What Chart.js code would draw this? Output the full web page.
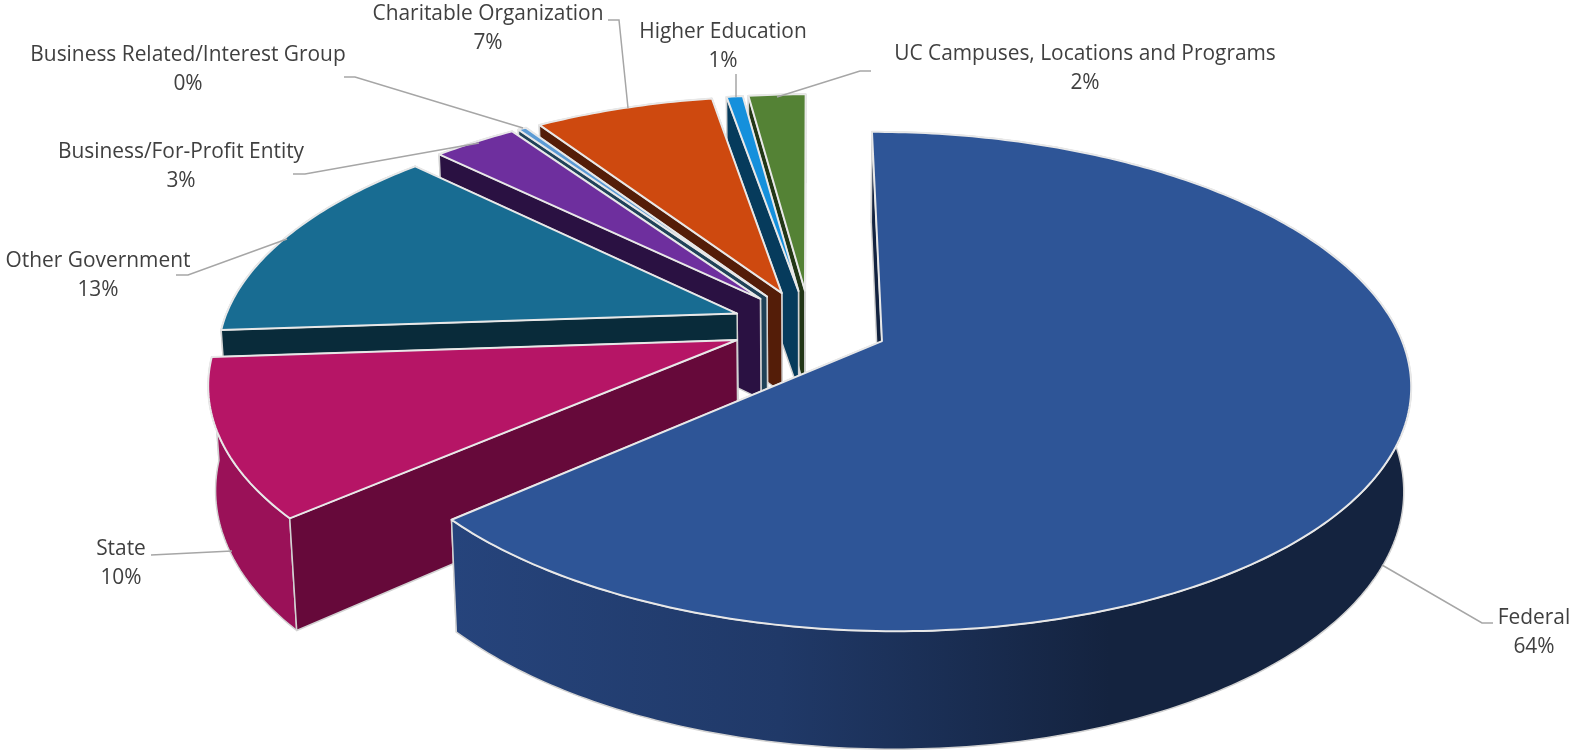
<!DOCTYPE html>
<html>
<head>
<meta charset="utf-8">
<title>Funding by source</title>
<script src="https://cdn.jsdelivr.net/npm/chart.js@4"></script>
<style>
  html, body { margin: 0; padding: 0; background: #fff; }
  #chart-box { width: 1575px; height: 751px; overflow: hidden; }
</style>
</head>
<body>
<div id="chart-box"><canvas id="fundingChart" width="1575" height="751"></canvas></div>
<script>
const categories = ['Federal', 'State', 'Other Government', 'Business/For-Profit Entity',
    'Business Related/Interest Group', 'Charitable Organization', 'Higher Education',
    'UC Campuses, Locations and Programs'];
const shares = [63.6, 10.3, 13.4, 3.1, 0.3, 6.6, 0.6, 2.1];

const topColors = ['#2E5597', '#B61566', '#186C92', '#6E2F9E', '#5B9BD5', '#CE490F', '#1590DC', '#548235'];
const wallColors = ['#12223F', '#66093A', '#092B3A', '#2A1142', '#1F4258', '#541D08', '#063B5C', '#223616'];
const rimColors = ['#14233F', '#9A1158', '#0F4A63', '#4A2070', '#3A6A90', '#8A3009', '#0B5E90', '#38571F'];

// text anchor + leader polyline for every label, same order as categories
const labelBoxes = [
    { x: 1534, y: 624, line: [[1493, 623], [1482, 623], [1382, 565]] },
    { x: 121, y: 555, line: [[151, 555], [232, 551]] },
    { x: 98, y: 267, line: [[176, 275], [188, 275], [287, 239]] },
    { x: 181, y: 158, line: [[293, 174], [305, 174], [479, 143]] },
    { x: 188, y: 61, line: [[344, 77], [355, 77], [523, 128]] },
    { x: 488, y: 20, line: [[608, 20], [619, 20], [628, 108]] },
    { x: 723, y: 38, line: [[736, 74], [736, 97]] },
    { x: 1085, y: 60, line: [[871, 71], [860, 71], [777, 97]] }
];

// camera for the tilted pie
const cam = { x0: 810, y0: 326, a: 515, b: 238.3, k: 0.16, depth: 103, shrink: 0.012 };

function project(gx, gy, low) {
    const w = 1 + cam.k * gy + (low ? cam.shrink : 0);
    const drop = low ? cam.depth : 0;
    return [cam.x0 + cam.a * gx / w, cam.y0 + (drop - cam.b * gy) / w];
}

// ground-plane geometry of one arc element, radius normalised to 1
function sliceGeometry(arc) {
    const r = arc.outerRadius;
    const mid = (arc.startAngle + arc.endAngle) / 2;
    const e = (arc.options.offset / 4) / r;
    const apex = [Math.cos(mid) * e, -Math.sin(mid) * e];
    const n = Math.max(2, Math.ceil((arc.endAngle - arc.startAngle) / 0.015));
    const rim = [];
    for (let i = 0; i <= n; i++) {
        const t = arc.startAngle + (arc.endAngle - arc.startAngle) * i / n;
        rim.push([apex[0] + Math.cos(t), apex[1] - Math.sin(t)]);
    }
    return { apex, rim };
}

function tracePoly(ctx, pts) {
    ctx.beginPath();
    pts.forEach((p, i) => i ? ctx.lineTo(p[0], p[1]) : ctx.moveTo(p[0], p[1]));
    ctx.closePath();
}

function drawWall(ctx, groundPts, fill) {
    const up = groundPts.map(p => project(p[0], p[1], false));
    const down = groundPts.map(p => project(p[0], p[1], true)).reverse();
    tracePoly(ctx, up.concat(down));
    ctx.fillStyle = fill;
    ctx.fill();
    ctx.strokeStyle = '#D2D2D2';
    ctx.lineWidth = 1.5;
    ctx.lineJoin = 'round';
    ctx.stroke();
}

const pie3d = {
    id: 'pie3d',
    beforeDatasetDraw(chart) {
        const ctx = chart.ctx;
        const arcs = chart.getDatasetMeta(0).data;
        ctx.save();
        for (let i = arcs.length - 1; i >= 0; i--) {
            const g = sliceGeometry(arcs[i]);
            const last = g.rim[g.rim.length - 1];
            let rimFill = rimColors[i];
            if (i === 0) {
                rimFill = ctx.createLinearGradient(450, 0, 1110, 0);
                rimFill.addColorStop(0, '#26447C');
                rimFill.addColorStop(0.5, '#203968');
                rimFill.addColorStop(1, '#14233F');
            }
            // a cut wall only shows when its top edge runs leftwards round the slice
            const apexX = project(g.apex[0], g.apex[1], false)[0];
            const startFront = project(g.rim[0][0], g.rim[0][1], false)[0] < apexX;
            const endFront = apexX < project(last[0], last[1], false)[0];
            if (!startFront) drawWall(ctx, [g.apex, g.rim[0]], wallColors[i]);
            if (!endFront) drawWall(ctx, [g.apex, last], wallColors[i]);
            drawWall(ctx, g.rim, rimFill);
            if (startFront) drawWall(ctx, [g.apex, g.rim[0]], wallColors[i]);
            if (endFront) drawWall(ctx, [g.apex, last], wallColors[i]);
            tracePoly(ctx, [g.apex].concat(g.rim).map(p => project(p[0], p[1], false)));
            ctx.fillStyle = arcs[i].options.backgroundColor;
            ctx.fill();
            ctx.strokeStyle = arcs[i].options.borderColor;
            ctx.lineWidth = arcs[i].options.borderWidth;
            ctx.stroke();
        }
        ctx.restore();
        return false;
    },
    afterDraw(chart) {
        const ctx = chart.ctx;
        const total = shares.reduce((a, b) => a + b, 0);
        ctx.save();
        ctx.strokeStyle = '#A6A6A6';
        ctx.lineWidth = 1.5;
        labelBoxes.forEach(box => {
            ctx.beginPath();
            box.line.forEach((p, i) => i ? ctx.lineTo(p[0], p[1]) : ctx.moveTo(p[0], p[1]));
            ctx.stroke();
        });
        ctx.fillStyle = '#404040';
        ctx.font = '20.9px "Open Sans"';
        ctx.textAlign = 'center';
        ctx.textBaseline = 'alphabetic';
        categories.forEach((name, i) => {
            ctx.fillText(name, labelBoxes[i].x, labelBoxes[i].y);
            ctx.fillText(Math.round(shares[i] / total * 100) + '%', labelBoxes[i].x, labelBoxes[i].y + 29);
        });
        ctx.restore();
    }
};

new Chart(document.getElementById('fundingChart'), {
    type: 'pie',
    data: {
        labels: categories,
        datasets: [{
            data: shares,
            backgroundColor: topColors,
            borderColor: '#E8E8E8',
            borderWidth: 2,
            offset: 174.6
        }]
    },
    options: {
        responsive: false,
        animation: false,
        events: [],
        plugins: { legend: { display: false }, tooltip: { enabled: false } }
    },
    plugins: [pie3d]
});
</script>
</body>
</html>
